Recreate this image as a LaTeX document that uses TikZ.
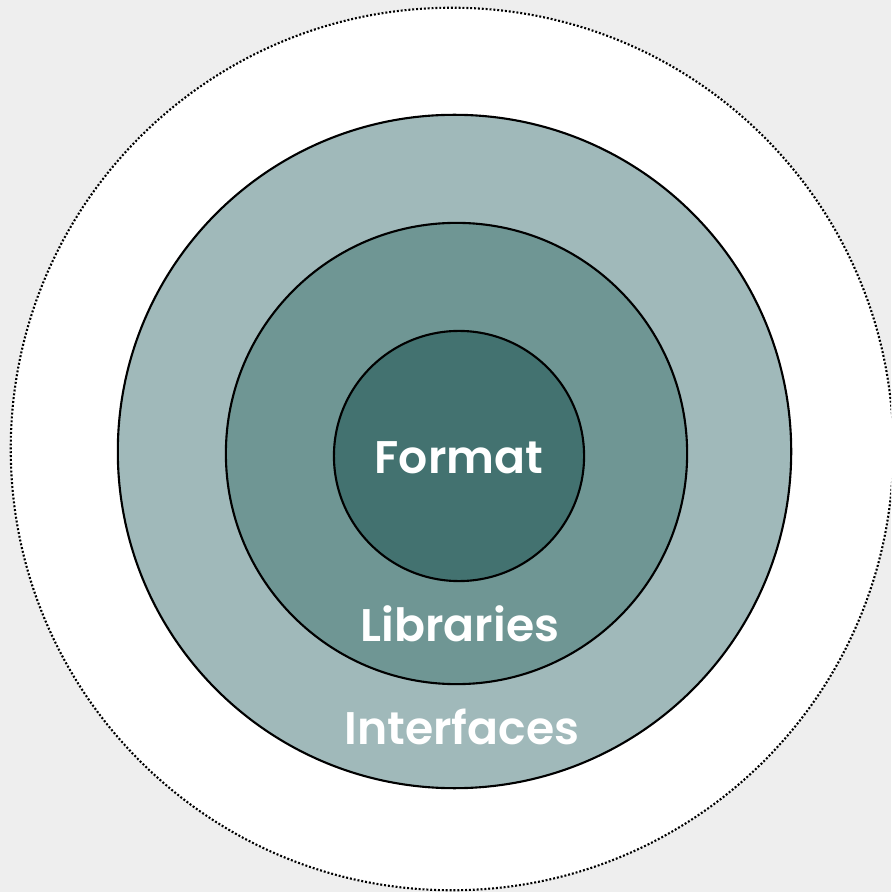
\documentclass[tikz,border=0pt]{standalone}
\usepackage{fontspec}
\setmainfont{Poppins}[BoldFont={Poppins SemiBold}]
\definecolor{bggrey}{HTML}{EEEEEE}
\definecolor{ringlight}{HTML}{A0B9BA}
\definecolor{ringmid}{HTML}{6F9694}
\definecolor{ringdark}{HTML}{437270}
\tikzset{
  ring/.style={circle, draw=black, line width=0.6pt, inner sep=0pt},
  label/.style={text=white, font=\bfseries\fontsize{13}{15}\selectfont, inner sep=0pt, anchor=base}
}
\begin{document}
\begin{tikzpicture}[x=0.01cm, y=-0.01cm]
      \useasboundingbox (0,0) rectangle (891,892);
      \fill[bggrey] (0,0) rectangle (891,892);
      \clip (0,0) rectangle (891,892);
      % rings, outermost first
      \node[ring, fill=white, dash pattern=on 0.55pt off 0.55pt, minimum size=8.82cm] (outer) at (452,449) {};
      \node[ring, fill=ringlight, minimum size=6.73cm] (interfaces) at (454.5,451.5) {};
      \node[ring, fill=ringmid, minimum size=4.61cm] (libraries) at (456.5,453.5) {};
      \node[ring, fill=ringdark, minimum size=2.50cm] (format) at (459,456) {};
      % labels
      \node[label] (formattext) at (459,474) {Format};
      \node[label] (librariestext) at (460,641) {Libraries};
      \node[label] (interfacestext) at (462,744) {Interfaces};
    \end{tikzpicture}
\end{document}
